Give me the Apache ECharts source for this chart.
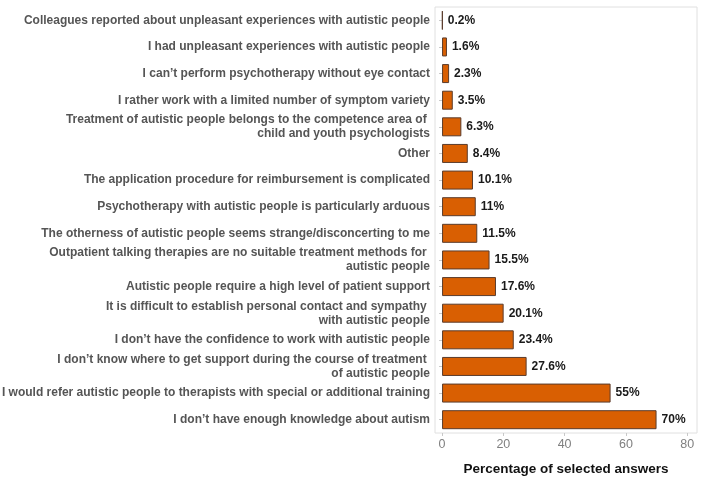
<!DOCTYPE html>
<html>
<head>
<meta charset="utf-8">
<script src="https://cdn.jsdelivr.net/npm/echarts@6/dist/echarts.min.js"></script>
<style>
  html, body { margin: 0; padding: 0; background: #fff; }
  #chart { width: 706px; height: 482px; }
</style>
</head>
<body>
<div id="chart"></div>
<script>
"use strict";

// reasons, top to bottom
var reasons = [
  'Colleagues reported about unpleasant experiences with autistic people',
  'I had unpleasant experiences with autistic people',
  'I can\u2019t perform psychotherapy without eye contact',
  'I rather work with a limited number of symptom variety',
  'Treatment of autistic people belongs to the competence area of \nchild and youth psychologists',
  'Other',
  'The application procedure for reimbursement is complicated',
  'Psychotherapy with autistic people is particularly arduous',
  'The otherness of autistic people seems strange/disconcerting to me',
  'Outpatient talking therapies are no suitable treatment methods for \nautistic people',
  'Autistic people require a high level of patient support',
  'It is difficult to establish personal contact and sympathy \nwith autistic people',
  'I don\u2019t have the confidence to work with autistic people',
  'I don\u2019t know where to get support during the course of treatment \nof autistic people',
  'I would refer autistic people to therapists with special or additional training',
  'I don\u2019t have enough knowledge about autism'
];
var percents = [0.2, 1.6, 2.3, 3.5, 6.3, 8.4, 10.1, 11, 11.5, 15.5, 17.6, 20.1, 23.4, 27.6, 55, 70];
var xTicks = [0, 20, 40, 60, 80];

var chart = echarts.init(document.getElementById('chart'));
var option = {
  animation: false,
  textStyle: { fontFamily: 'Liberation Sans, Arial, sans-serif' },
  grid: {
    left: 435,
    right: 9,
    top: 7,
    bottom: 49,
    show: true,
    borderColor: '#e0e0e0',
    borderWidth: 1,
    containLabel: false,
    outerBoundsMode: 'none'
  },
  xAxis: {
    type: 'value',
    min: -2.3,
    max: 83.2,
    name: 'Percentage of selected answers',
    nameLocation: 'middle',
    nameGap: 29,
    nameTextStyle: { fontSize: 13.5, fontWeight: 'bold', color: '#111' },
    axisLine: { show: false },
    splitLine: { show: false },
    axisTick: {
      show: true,
      length: 3,
      customValues: xTicks,
      lineStyle: { color: '#c8c8c8' }
    },
    axisLabel: {
      customValues: xTicks,
      color: '#808080',
      fontSize: 12.5,
      margin: 5
    }
  },
  yAxis: {
    type: 'category',
    inverse: true,
    data: reasons,
    axisLine: { show: false },
    axisTick: {
      show: true,
      length: 3,
      alignWithLabel: true,
      lineStyle: { color: '#c8c8c8' }
    },
    axisLabel: {
      color: '#555',
      fontSize: 12,
      fontWeight: 'bold',
      lineHeight: 14,
      margin: 5,
      align: 'right'
    }
  },
  series: [{
    type: 'bar',
    data: percents,
    barWidth: 19,
    itemStyle: {
      color: '#D95F02',
      borderColor: '#5a3c2c',
      borderWidth: 1
    },
    label: {
      show: true,
      position: 'right',
      distance: 5,
      formatter: '{c}%',
      color: '#1a1a1a',
      fontSize: 12,
      fontWeight: 'bold'
    }
  }]
};
chart.setOption(option);
</script>
</body>
</html>
